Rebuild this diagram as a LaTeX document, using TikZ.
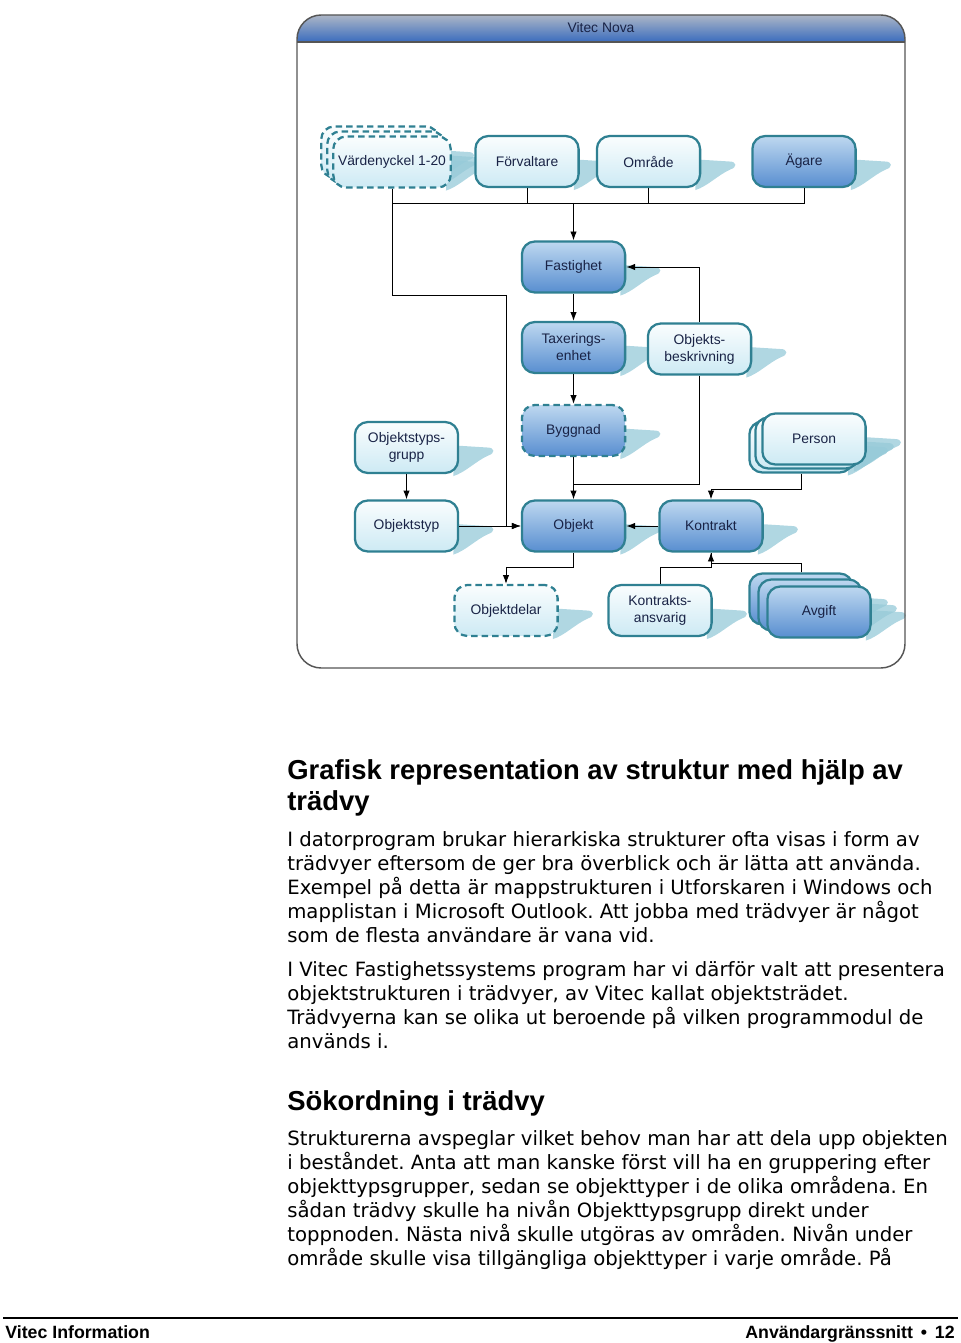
\documentclass[tikz,border=0pt]{standalone}
\usepackage{fontspec}
\setmainfont{Liberation Sans}
\newfontfamily\bodyfont{DejaVu Sans}
\usetikzlibrary{arrows.meta}
\usetikzlibrary{calc}
\usetikzlibrary{backgrounds}
\frenchspacing

\definecolor{rim}{RGB}{47,128,146}
\definecolor{ink}{RGB}{25,35,70}
\definecolor{paletop}{RGB}{250,253,254}
\definecolor{palebot}{RGB}{205,234,244}
\definecolor{deeptop}{RGB}{190,216,240}
\definecolor{deepbot}{RGB}{88,142,208}
\definecolor{shadecol}{RGB}{150,202,216}
\definecolor{headtop}{RGB}{172,182,198}
\definecolor{headbot}{RGB}{58,108,190}
\definecolor{framecol}{RGB}{85,85,85}

% shadow to the right of a box
\newcommand{\boxshade}[1]{%
  \fill[shadecol,fill opacity=0.75] ($(#1.east)+(-4,-2)$) -- ($(#1.east)+(28,0)$)
    .. controls ($(#1.east)+(36,0)$) and ($(#1.east)+(36,6)$) .. ($(#1.east)+(29,8)$)
    .. controls ($(#1.east)+(16,14)$) and ($(#1.east)+(6,25)$) .. ($(#1.south east)+(-6,2)$) -- cycle;}

\begin{document}
\begin{tikzpicture}[x=0.62pt,y=-0.62pt]
  \tikzset{box/.style = {shape=rectangle,rounded corners=8pt,draw=rim,line width=1.4pt,minimum width=64pt,minimum height=31.6pt,inner xsep=3pt,align=center,text=ink,font=\fontsize{8.6}{10.5}\selectfont}}
  \tikzset{pale/.style = {box,top color=paletop,bottom color=palebot}}
  \tikzset{deep/.style = {box,top color=deeptop,bottom color=deepbot}}
  \tikzset{broken/.style = {dash pattern=on 4pt off 2.5pt}}
  \tikzset{edge/.style = {-{Latex[length=5.5pt,width=4pt]},line width=0.6pt}}
  \tikzset{link/.style = {line width=0.6pt}}
  \tikzset{para/.style = {anchor=base west,inner sep=0pt,align=left,font=\bodyfont\fontsize{12.2}{14.88}\selectfont}}
  \tikzset{heading/.style = {anchor=base west,inner sep=0pt,align=left,font=\bfseries\fontsize{17}{19.2}\selectfont}}
  \tikzset{foot/.style = {inner sep=0pt,font=\bfseries\fontsize{11}{13}\selectfont}}

  \useasboundingbox (0,0) rectangle (960,1343);

  % frame with title bar
  \begin{scope}
    \clip[rounded corners=15pt] (297,15) rectangle (905,668);
    \shade[top color=headtop,bottom color=headbot] (297,15) rectangle (905,42);
  \end{scope}
  \draw[framecol,line width=0.9pt] (297,42) -- (905,42);
  \draw[framecol,line width=0.9pt,rounded corners=15pt] (297,15) rectangle (905,668);
  \node[text=ink,font=\fontsize{8.6}{10}\selectfont] (title) at (601,28) {Vitec Nova};

  % top row
  \node[pale,broken] (vnyckc) at (380,152) {\phantom{Värdenyckel 1-20}};
  \node[pale,broken] (vnyckb) at (386,157) {\phantom{Värdenyckel 1-20}};
  \node[pale,broken] (vnyck) at (392,162) {Värdenyckel 1-20};
  \node[pale] (forv) at (527,161.5) {Förvaltare};
  \node[pale] (omr) at (648.5,161.5) {Område};
  \node[deep] (agare) at (804,161.5) {Ägare};

  % middle column
  \node[deep] (fast) at (573.5,267) {Fastighet};
  \node[deep] (tax) at (573.5,347.5) {Taxerings-\\enhet};
  \node[pale] (objb) at (699.5,349) {Objekts-\\beskrivning};
  \node[deep,broken] (bygg) at (573.5,430.5) {Byggnad};
  \node[pale] (otg) at (406.5,447.5) {Objektstyps-\\grupp};
  \node[pale] (otyp) at (406.5,526) {Objektstyp};
  \node[deep] (obj) at (573.5,526) {Objekt};
  \node[deep] (kontr) at (711,526) {Kontrakt};

  % person stack
  \node[pale] (personc) at (801,447) {};
  \node[pale] (personb) at (807,443) {};
  \node[pale] (person) at (814,439) {Person};

  % bottom row
  \node[pale,broken] (odel) at (506,610.5) {Objektdelar};
  \node[pale] (kans) at (660,610.5) {Kontrakts-\\ansvarig};
  \node[deep] (avgc) at (801,599) {};
  \node[deep] (avgb) at (810,605) {};
  \node[deep] (avg) at (819,612) {Avgift};

  \begin{scope}[on background layer]
    \foreach \n in {vnyckc,vnyckb,vnyck,forv,omr,agare,fast,tax,objb,bygg,otg,otyp,obj,kontr,personc,personb,person,odel,kans,avgc,avgb,avg}
      \boxshade{\n};
  \end{scope}

  % connectors
  \coordinate (bus) at (573.5,203);
  \coordinate (vturn) at (506,295);
  \coordinate (objjoin) at (573.5,484);
  \foreach \n in {vnyck,forv,omr,agare}
    \draw[link] (\n.south) |- (bus);
  \draw[edge] (bus) -- (fast.north);
  \draw[link] (vnyck.south) |- (vturn);
  \draw[edge] (vturn) |- (obj.west);
  \draw[edge] (objb.north) |- (fast.east);
  \draw[link] (objb.south) |- (objjoin);
  \foreach \from/\to in {fast/tax, tax/bygg, bygg/obj, otg/otyp, otyp/obj, kontr/obj}
    \path[edge] (\from) edge (\to);
  \draw[edge] (personc.south) -- ++(0,16) -| (kontr.north);
  \draw[edge] (obj.south) -- ++(0,15) -| (odel.north);
  \draw[edge] (kans.north) -- ++(0,-16) -| (kontr.south);
  \draw[link] (avgc.north) -- ++(0,-9) -| (kontr.south);

  % page text (base = last line)
  \node[heading] (h1) at (287,810) {Grafisk representation av struktur med hjälp av\\trädvy};
  \node[para] (p1) at (287,942) {I datorprogram brukar hierarkiska strukturer ofta visas i form av\\
trädvyer eftersom de ger bra överblick och är lätta att använda.\\
Exempel på detta är mappstrukturen i Utforskaren i Windows och\\
mapplistan i Microsoft Outlook. Att jobba med trädvyer är något\\
som de flesta användare är vana vid.};
  \node[para] (p2) at (287,1048) {I Vitec Fastighetssystems program har vi därför valt att presentera\\
objektstrukturen i trädvyer, av Vitec kallat objektsträdet.\\
Trädvyerna kan se olika ut beroende på vilken programmodul de\\
används i.};
  \node[heading] (h2) at (287,1110) {Sökordning i trädvy};
  \node[para] (p3) at (287,1265) {Strukturerna avspeglar vilket behov man har att dela upp objekten\\
i beståndet. Anta att man kanske först vill ha en gruppering efter\\
objekttypsgrupper, sedan se objekttyper i de olika områdena. En\\
sådan trädvy skulle ha nivån Objekttypsgrupp direkt under\\
toppnoden. Nästa nivå skulle utgöras av områden. Nivån under\\
område skulle visa tillgängliga objekttyper i varje område. På};

  % footer
  \coordinate (rulel) at (3,1318);
  \coordinate (ruler) at (958,1318);
  \draw[line width=1.2pt] (rulel) -- (ruler);
  \node[foot,anchor=base west] (footl) at (5,1338) {Vitec Information};
  \node[foot,anchor=base east] (footr) at (955,1338) {Användargränssnitt\, • \,12};
\end{tikzpicture}
\end{document}
